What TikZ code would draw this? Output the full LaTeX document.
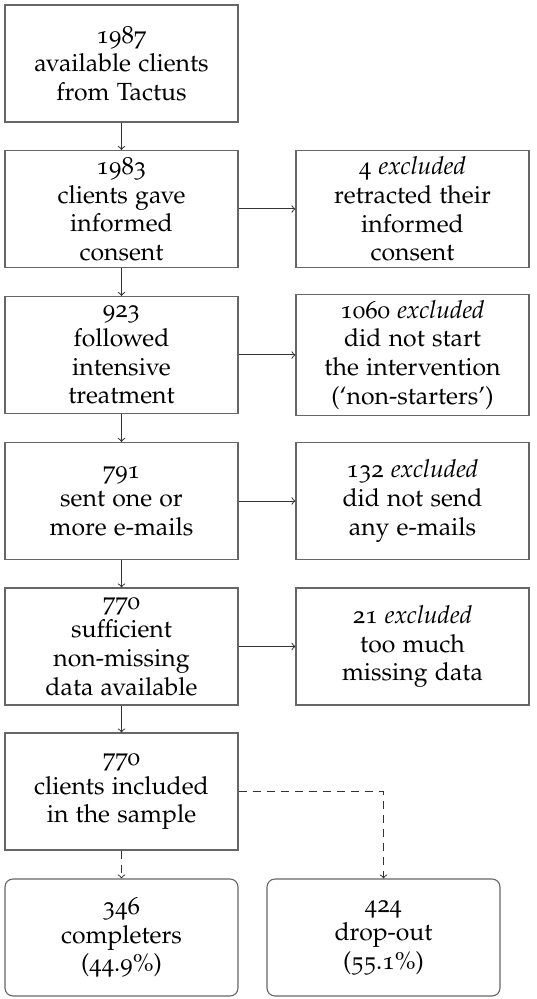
\documentclass[tikz,border=0pt]{standalone}
\usepackage[T1]{fontenc}
\usepackage[osf]{mathpazo}
\usepackage{tikz}
\tikzset{
	stage/.style={draw=black!60, line width=0.55pt, minimum width=116.5pt, minimum height=58.5pt, inner sep=3pt, align=center, font=\fontsize{12.4}{14.3}\selectfont},
	outcome/.style={stage, rounded corners=4pt},
	flow/.style={draw=black!80, line width=0.5pt, ->},
	split/.style={flow, dash pattern=on 4pt off 3pt}
}
\begin{document}
\begin{tikzpicture}[x=0.5pt, y=-0.5pt]
			%%%%% START %%%%%
			
			\useasboundingbox (0, 0) rectangle (536, 999);
			
			\node[stage] (avail) at (121.5, 63.5) {1987\\available clients\\from Tactus};
			\node[stage] (consent) at (121.5, 209) {1983\\clients gave\\informed\\consent};
			\node[stage] (treat) at (121.5, 355) {923\\followed\\intensive\\treatment};
			\node[stage] (sent) at (121.5, 501) {791\\sent one or\\more e-mails};
			\node[stage] (data) at (121.5, 646.5) {770\\sufficient\\non-missing\\data available};
			\node[stage] (sample) at (121.5, 791.5) {770\\clients included\\in the sample};
			
			\node[stage] (retract) at (412.5, 209) {4 \emph{excluded}\\retracted their\\informed\\consent};
			\node[stage] (nonstart) at (412.5, 355) {1060 \emph{excluded}\\did not start\\the intervention\\(`non-starters')};
			\node[stage] (nomail) at (412.5, 501) {132 \emph{excluded}\\did not send\\any e-mails};
			\node[stage] (missing) at (412.5, 646.5) {21 \emph{excluded}\\too much\\missing data};
			
			\node[outcome] (compl) at (121.5, 937.5) {346\\completers\\(44.9\%)};
			\node[outcome] (drop) at (383.5, 937.5) {424\\drop-out\\(55.1\%)};
			
			\draw[flow] (avail) -- (consent);
			\draw[flow] (consent) -- (treat);
			\draw[flow] (treat) -- (sent);
			\draw[flow] (sent) -- (data);
			\draw[flow] (data) -- (sample);
			
			\draw[flow] (consent) -- (retract);
			\draw[flow] (treat) -- (nonstart);
			\draw[flow] (sent) -- (nomail);
			\draw[flow] (data) -- (missing);
			
			\draw[split] (sample) -- (compl);
			\draw[split] (sample.east) -| (drop.north);
			
			%%%%% END %%%%%
\end{tikzpicture}
\end{document}
